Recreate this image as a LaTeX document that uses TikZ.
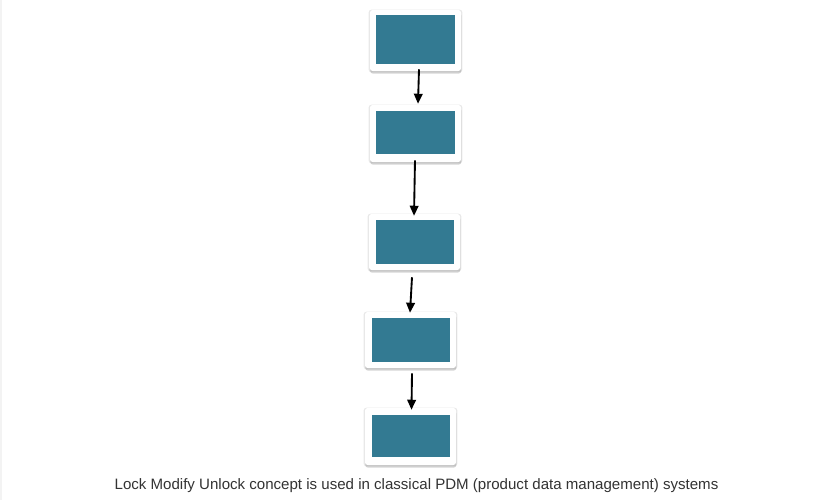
\documentclass[tikz,border=0pt]{standalone}
\usepackage{fontspec}
\setmainfont{Liberation Sans}
\usetikzlibrary{calc,arrows.meta,shadows}
\definecolor{cardTeal}{RGB}{51,122,146}
\definecolor{captionGray}{RGB}{51,51,51}
\definecolor{edgeGray}{RGB}{243,243,243}

\begin{document}
\begin{tikzpicture}[x=0.75pt,y=-0.75pt,
  card/.style={fill=white,rounded corners=2pt,inner sep=0pt,minimum width=68.25pt,
    drop shadow={shadow xshift=0.2pt,shadow yshift=-2pt,opacity=.16,fill=black},
    drop shadow={shadow xshift=0pt,shadow yshift=-0.4pt,shadow scale=1.03,opacity=.09,fill=black}},
  panel/.style={fill=cardTeal,inner sep=0pt,minimum width=59pt},
  flow/.style={line width=1.4pt,-{Triangle[length=7.5pt,width=6.5pt]}}]
\useasboundingbox[fill=white] (0,0) rectangle (829,500);
\draw[edgeGray,line width=1.5pt] (0.5,0) -- (0.5,500);
% cards
\node[card,minimum height=45.75pt] (card1) at (415.5,40.5) {};
\node[panel,minimum height=36.75pt] (panel1) at (415.5,39.5) {};
\node[card,minimum height=42.75pt] (card2) at (415.5,133.5) {};
\node[panel,minimum height=32.25pt] (panel2) at (415.5,132.5) {};
\node[card,minimum height=42pt] (card3) at (414.5,242) {};
\node[panel,minimum height=33pt,minimum width=58.5pt] (panel3) at (415,242) {};
\node[card,minimum height=42pt] (card4) at (410.5,340) {};
\node[panel,minimum height=33pt,minimum width=58.5pt] (panel4) at (411,340) {};
\node[card,minimum height=42.75pt] (card5) at (410.5,436.5) {};
\node[panel,minimum height=31.5pt,minimum width=58.5pt] (panel5) at (411,436) {};
% arrows
\draw[flow] ($(card1.south)+(3.5,-2)$) -- ($(card2.north)+(2.5,-1)$);
\draw[flow] ($(card2.south)+(-0.5,-2)$) -- ($(card3.north)+(-0.5,2)$);
\draw[flow] ($(card3.south)+(-2.5,7)$) -- ($(card4.north)+(-0.5,1)$);
\draw[flow] ($(card4.south)+(1.5,5)$) -- ($(card5.north)+(1,2)$);
% caption
\node[text=captionGray,font=\fontsize{11.3}{13}\selectfont] (caption) at (416.5,486)
  {Lock Modify Unlock concept is used in classical PDM (product data management) systems};
\end{tikzpicture}
\end{document}
